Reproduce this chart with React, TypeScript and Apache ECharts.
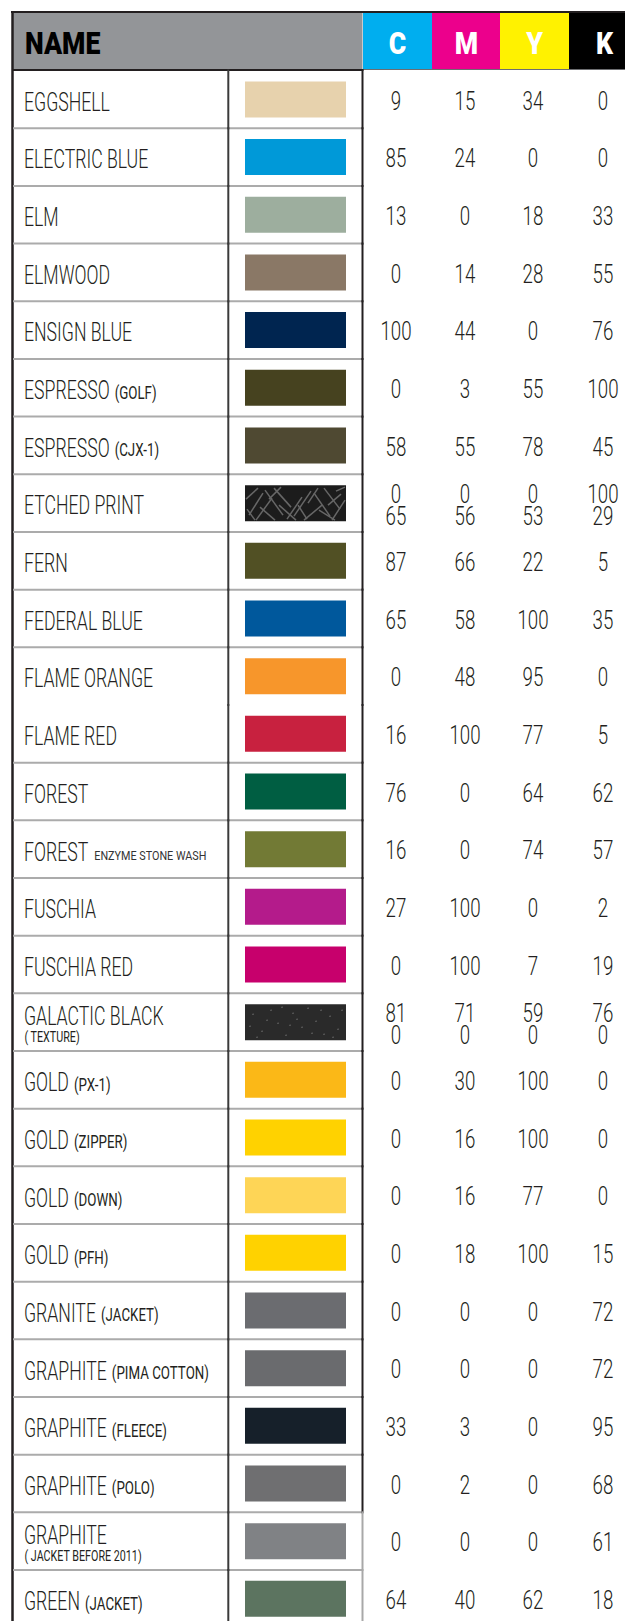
import React, { useEffect, useRef } from 'react';
import * as echarts from 'echarts';

// ---------- data ----------
const names = ['EGGSHELL', 'ELECTRIC BLUE', 'ELM', 'ELMWOOD', 'ENSIGN BLUE', 'ESPRESSO', 'ESPRESSO', 'ETCHED PRINT', 'FERN', 'FEDERAL BLUE', 'FLAME ORANGE', 'FLAME RED', 'FOREST', 'FOREST', 'FUSCHIA', 'FUSCHIA RED', 'GALACTIC BLACK', 'GOLD', 'GOLD', 'GOLD', 'GOLD', 'GRANITE', 'GRAPHITE', 'GRAPHITE', 'GRAPHITE', 'GRAPHITE', 'GREEN'];
const notes = ['', '', '', '', '', '(GOLF)', '(CJX-1)', '', '', '', '', '', '', 'ENZYME STONE WASH', '', '', '( TEXTURE)', '(PX-1)', '(ZIPPER)', '(DOWN)', '(PFH)', '(JACKET)', '(PIMA COTTON)', '(FLEECE)', '(POLO)', '( JACKET BEFORE 2011)', '(JACKET)'];
const swatchColors = ['#E7D2AD', '#0099D8', '#9DAE9E', '#8A7866', '#002550', '#46421F', '#4F4932', '#1C1C1C', '#515024', '#00589C', '#F7962B', '#C8213F', '#005E42', '#727A35', '#B41B8B', '#C7006C', '#2A2A2A', '#FBB817', '#FFD200', '#FED556', '#FFD200', '#6B6C70', '#6A6B6E', '#16202A', '#6F6F71', '#808285', '#5C7460'];
const cyan = [9, 85, 13, 0, 100, 0, 58, 0, 87, 65, 0, 16, 76, 16, 27, 0, 81, 0, 0, 0, 0, 0, 0, 33, 0, 0, 64];
const magenta = [15, 24, 0, 14, 44, 3, 55, 0, 66, 58, 48, 100, 0, 0, 100, 100, 71, 30, 16, 16, 18, 0, 0, 3, 2, 0, 40];
const yellow = [34, 0, 18, 28, 0, 55, 78, 0, 22, 100, 95, 77, 64, 74, 0, 7, 59, 100, 100, 77, 100, 0, 0, 0, 0, 0, 62];
const black = [0, 0, 33, 55, 76, 100, 45, 100, 5, 35, 0, 5, 62, 57, 2, 19, 76, 0, 0, 0, 15, 72, 72, 95, 68, 61, 18];
// second CMYK line for textured entries: [C, M, Y, K]
const secondLine: Record<number, number[]> = { 7: [65, 56, 53, 29], 16: [0, 0, 0, 0] };
const textures: Record<number, string> = { 7: 'etched', 16: 'speckled' };
const headerLetters = ['C', 'M', 'Y', 'K'];
const headerColors = ['#00AEEF', '#EC008C', '#FFF200', '#000000'];

// ---------- layout / style ----------
const W = 625;
const H = 1621;
const CHART_H = 1640;
const ROW_H = 57.67;
const GRID_TOP = 70.6;
const NAME_X = 24;
const SWATCH_X = 295.5;
const COL_LINE_1 = 228.3;
const COL_LINE_2 = 362.5;
const TABLE_LEFT = 13;
const CMYK_X = [396, 465, 533, 603];
const BOX_X = [363, 432, 500, 569, 625];
const FONT = 'Roboto, "Liberation Sans", sans-serif';
const INK = '#231F20';
const MAIN_SIZE = 26;
const MAIN_WEIGHT = 300;
const MAIN_SCALE = 0.68;
const belowNotes = new Set([16, 25]);
const tinyNotes = new Set([13]);
const noSeparator = new Set([10]);
const lightRightLine = new Set([25, 26]);

const etchedSticks = [[4, 30, 18, 8], [11, 35, 27, 13], [20, 5, 38, 30], [29, 3, 46, 22], [42, 34, 57, 12], [49, 31, 66, 6], [59, 35, 77, 20], [69, 8, 85, 31], [79, 3, 95, 24], [87, 35, 100, 15], [1, 14, 13, 3], [34, 20, 51, 35], [63, 18, 73, 3], [91, 6, 100, 2], [15, 22, 30, 35], [74, 25, 90, 35], [2, 24, 10, 35], [24, 14, 36, 2], [53, 20, 62, 34], [83, 20, 96, 9]];
const speckles = [[8, 10], [17, 27], [26, 6], [33, 19], [41, 31], [48, 9], [57, 23], [63, 4], [71, 17], [79, 30], [85, 12], [93, 25], [12, 33], [52, 15], [97, 6], [37, 3], [67, 29], [22, 16], [5, 22], [88, 33], [45, 21], [76, 6]];

const labels = names.map((n, i) => (notes[i] ? `${n} ${notes[i]}` : n));

let measureCtx: CanvasRenderingContext2D | null = null;
function measure(text: string, size: number, weight: number | string): number {
  if (!measureCtx) measureCtx = document.createElement('canvas').getContext('2d');
  if (!measureCtx) return text.length * size * 0.6;
  measureCtx.font = `${weight} ${size}px ${FONT}`;
  return measureCtx.measureText(text).width;
}

export default function App() {
  const ref = useRef<HTMLDivElement>(null);
  useEffect(() => {
    document.body.style.margin = '0';
    if (!ref.current) return;
    const chart = echarts.init(ref.current, null, { renderer: 'svg' });

    const gridSeries = {
      type: 'custom',
      name: 'grid',
      silent: true,
      z: 1,
      data: names.map((_, i) => [0, i]),
      encode: { x: 0, y: 1 },
      renderItem: (params: any, api: any) => {
        const i = params.dataIndex;
        const cy = api.coord([0, i])[1];
        const h = api.size([0, 1])[1];
        const top = cy - h / 2;
        const bot = cy + h / 2;
        const xl = api.coord([TABLE_LEFT, i])[0];
        const x1 = api.coord([COL_LINE_1, i])[0];
        const x2 = api.coord([COL_LINE_2, i])[0];
        const children: any[] = [];
        if (!noSeparator.has(i) && i < names.length - 1) {
          children.push({ type: 'line', shape: { x1: xl, y1: bot, x2: x2, y2: bot }, style: { stroke: '#ABABAB', lineWidth: 2 } });
        }
        children.push({ type: 'line', shape: { x1: x1, y1: top - 1, x2: x1, y2: bot + 1 }, style: { stroke: '#3A3A3A', lineWidth: 2 } });
        children.push({ type: 'line', shape: { x1: x2, y1: top - 1, x2: x2, y2: bot + 1 }, style: { stroke: lightRightLine.has(i) ? '#A8A8A8' : INK, lineWidth: 2 } });
        return { type: 'group', children };
      },
    };

    const swatchSeries = {
      type: 'custom',
      name: 'swatch',
      silent: true,
      z: 2,
      data: swatchColors.map((_, i) => [SWATCH_X, i]),
      encode: { x: 0, y: 1 },
      renderItem: (params: any, api: any) => {
        const i = params.dataIndex;
        const [cx, cy] = api.coord([SWATCH_X, i]);
        const w = api.size([101, 0])[0];
        const hh = 36;
        const x0 = cx - w / 2;
        const y0 = cy - hh / 2;
        const children: any[] = [{ type: 'rect', shape: { x: x0, y: y0, width: w, height: hh }, style: { fill: swatchColors[i] } }];
        if (textures[i] === 'etched') {
          etchedSticks.forEach((s) => children.push({ type: 'line', shape: { x1: x0 + s[0], y1: y0 + s[1], x2: x0 + s[2], y2: y0 + s[3] }, style: { stroke: '#676767', lineWidth: 1.5 } }));
        } else if (textures[i] === 'speckled') {
          speckles.forEach((s) => children.push({ type: 'circle', shape: { cx: x0 + s[0], cy: y0 + s[1], r: 0.6 }, style: { fill: '#8A8A8A' } }));
        }
        return { type: 'group', children };
      },
    };

    const mainText = (x: number, y: number, text: string) => ({
      type: 'text', x, y, scaleX: MAIN_SCALE,
      style: { text, fill: INK, fontSize: MAIN_SIZE, fontWeight: MAIN_WEIGHT, fontFamily: FONT, align: 'left', verticalAlign: 'middle' },
    });

    const nameSeries = {
      type: 'custom',
      name: 'names',
      silent: true,
      z: 3,
      data: names.map((_, i) => [NAME_X, i]),
      encode: { x: 0, y: 1 },
      renderItem: (params: any, api: any) => {
        const i = params.dataIndex;
        const [x, cy] = api.coord([NAME_X, i]);
        const note = notes[i];
        if (!note) return mainText(x, cy + 2, names[i]);
        if (belowNotes.has(i)) {
          return {
            type: 'group',
            children: [
              mainText(x, cy - 7, names[i]),
              { type: 'text', x: x + 0.5, y: cy + 15, scaleX: 0.74, style: { text: note, fill: INK, fontSize: 14.5, fontWeight: 400, fontFamily: FONT, align: 'left', verticalAlign: 'middle' } },
            ],
          };
        }
        const tiny = tinyNotes.has(i);
        const mw = measure(names[i], MAIN_SIZE, MAIN_WEIGHT) * MAIN_SCALE;
        const gap = tiny ? 6 : 5;
        const size = tiny ? 12 : 18;
        const sx = tiny ? 0.9 : 0.74;
        return {
          type: 'group',
          children: [
            mainText(x, cy + 2, names[i]),
            { type: 'text', x: x + mw + gap, y: cy + 2 + (tiny ? 4.2 : 2.6), scaleX: sx, style: { text: note, fill: tiny ? '#333' : INK, fontSize: size, fontWeight: 400, fontFamily: FONT, align: 'left', verticalAlign: 'middle' } },
          ],
        };
      },
    };

    const numText = (x: number, y: number, text: string) => ({
      type: 'text', x, y, scaleX: 0.72,
      style: { text, fill: INK, fontSize: 26, fontWeight: MAIN_WEIGHT, fontFamily: FONT, align: 'center', verticalAlign: 'middle' },
    });

    const channels = [cyan, magenta, yellow, black];
    const valueSeries = channels.map((vals, c) => ({
      type: 'custom',
      name: headerLetters[c],
      silent: true,
      z: 3,
      data: vals.map((v, i) => [CMYK_X[c], i, v]),
      encode: { x: 0, y: 1 },
      renderItem: (params: any, api: any) => {
        const i = params.dataIndex;
        const [x, cy] = api.coord([CMYK_X[c], i]);
        const v = api.value(2);
        const second = secondLine[i];
        if (second) {
          return { type: 'group', children: [numText(x, cy - 9, String(v)), numText(x, cy + 13.5, String(second[c]))] };
        }
        return numText(x, cy + 1.5, String(v));
      },
    }));

    const graphic: any[] = [
      { type: 'rect', shape: { x: 12, y: 12, width: COL_LINE_2 - 12, height: 58 }, style: { fill: '#939598' } },
      ...headerLetters.map((_, c) => ({ type: 'rect', shape: { x: BOX_X[c], y: 12, width: BOX_X[c + 1] - BOX_X[c], height: 57 }, style: { fill: headerColors[c] } })),
      { type: 'line', shape: { x1: 363, y1: 69.5, x2: 625, y2: 69.5 }, style: { stroke: '#6D6E71', lineWidth: 1 } },
      { type: 'line', shape: { x1: 11, y1: 12, x2: 625, y2: 12 }, style: { stroke: INK, lineWidth: 2 } },
      { type: 'line', shape: { x1: 12, y1: 70, x2: COL_LINE_2 + 1, y2: 70 }, style: { stroke: INK, lineWidth: 2.2 } },
      { type: 'line', shape: { x1: 12.5, y1: 11, x2: 12.5, y2: CHART_H }, style: { stroke: INK, lineWidth: 2.5 } },
      { type: 'text', x: 25, y: 43, scaleX: 0.86, style: { text: 'NAME', fill: '#000', fontSize: 31, fontWeight: 900, fontFamily: FONT, align: 'left', verticalAlign: 'middle', textAlign: 'left', textVerticalAlign: 'middle' } },
      ...headerLetters.map((l, c) => ({ type: 'text', x: CMYK_X[c] + 1.5, y: 43, scaleX: 0.86, style: { text: l, fill: '#FFFFFF', fontSize: 31, fontWeight: 900, fontFamily: FONT, align: 'center', verticalAlign: 'middle', textAlign: 'center', textVerticalAlign: 'middle' } })),
    ];

    chart.setOption({
      animation: false,
      backgroundColor: '#FFFFFF',
      grid: { left: 0, top: GRID_TOP, width: W, height: ROW_H * names.length },
      xAxis: { type: 'value', min: 0, max: W, show: false },
      yAxis: { type: 'category', data: labels, inverse: true, show: false },
      graphic,
      series: [gridSeries, swatchSeries, nameSeries, ...valueSeries],
    } as any);

    return () => chart.dispose();
  }, []);

  return (
    <div style={{ position: 'absolute', left: 0, top: 0, width: W, height: H, overflow: 'hidden' }}>
      <div ref={ref} style={{ width: W, height: CHART_H }} />
    </div>
  );
}
